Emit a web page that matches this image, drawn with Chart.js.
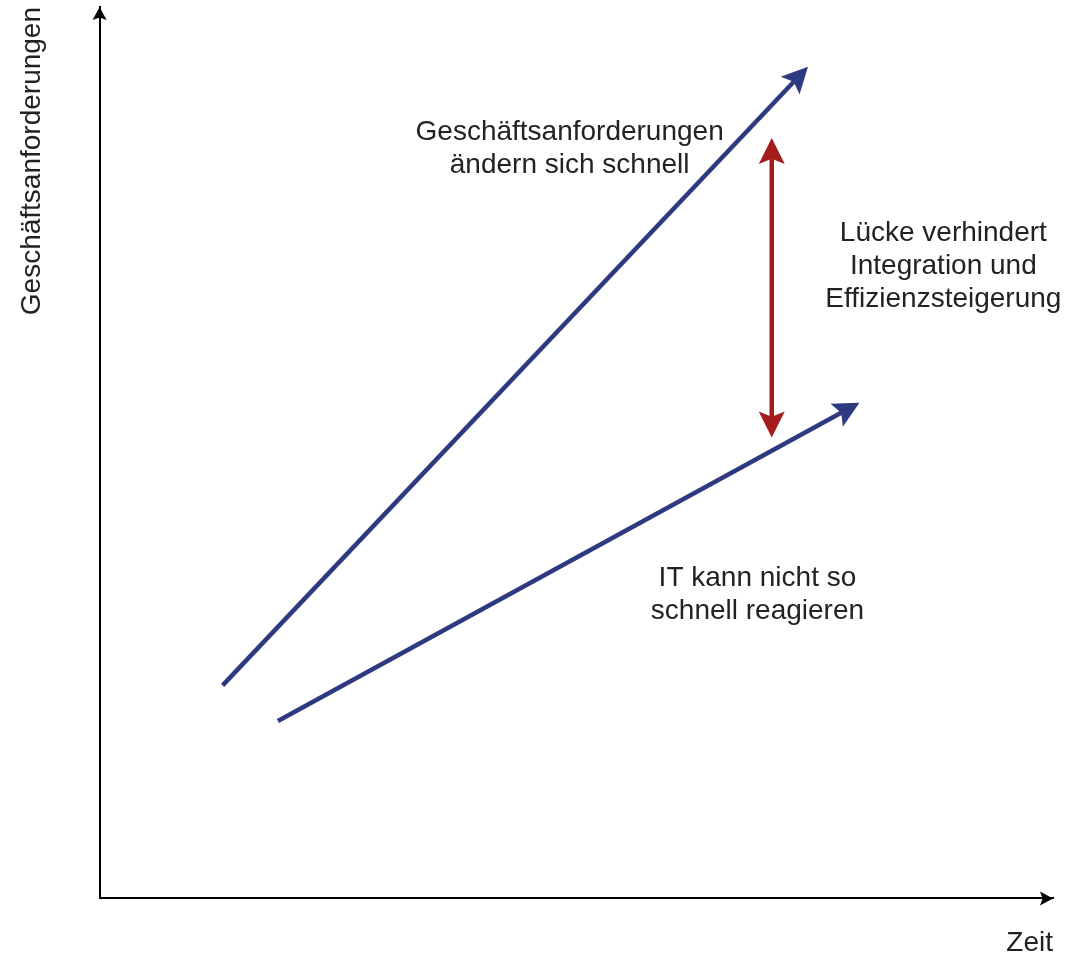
<!DOCTYPE html>
<html>
<head>
<meta charset="utf-8">
<script src="https://cdn.jsdelivr.net/npm/chart.js@4/dist/chart.umd.min.js"></script>
<style>
  html, body { margin: 0; padding: 0; background: #fff; }
  #wrap { width: 1076px; height: 960px; }
</style>
</head>
<body>
<div id="wrap"><canvas id="myChart"></canvas></div>
<script>
// values, both axes 0..100
let timeBusiness = [12.9, 74.3];
let demandBusiness = [23.9, 93.3];
let timeIT = [18.7, 79.7];
let demandIT = [19.9, 55.6];
let gapTime = [70.5, 70.5];
let gapDemand = [51.7, 85.3];

let noteLines = [
  ['Geschäftsanforderungen', 'ändern sich schnell'],
  ['Lücke verhindert', 'Integration und', 'Effizienzsteigerung'],
  ['IT kann nicht so', 'schnell reagieren']
];
let noteX = [49.3, 88.5, 69.0];
let noteY = [84.1, 70.9, 34.1];

let blue = '#2d3a80';
let red = '#a41d1d';
let fontFamily = '"Liberation Sans", Arial, sans-serif';
let headLen = 26, headHalf = 13, notch = 0.8;

function toPoints(xs, ys) {
  return xs.map((x, i) => ({ x: x, y: ys[i] }));
}

// classic (notched) arrowhead with its tip at (x, y), pointing along angle
function arrowHead(c, x, y, angle, len, half, color) {
  c.save();
  c.translate(x, y);
  c.rotate(angle);
  c.fillStyle = color;
  c.beginPath();
  c.moveTo(0, 0);
  c.lineTo(-len, -half);
  c.lineTo(-len * notch, 0);
  c.lineTo(-len, half);
  c.closePath();
  c.fill();
  c.restore();
}

// arrow tips (x, y, angle) of one dataset
function tips(chart, i) {
  let ds = chart.data.datasets[i];
  let pts = chart.getDatasetMeta(i).data;
  let a = pts[pts.length - 2], b = pts[pts.length - 1];
  let out = [{ x: b.x, y: b.y, angle: Math.atan2(b.y - a.y, b.x - a.x), color: ds.borderColor }];
  if (ds.bothEnds) {
    let p = pts[0], q = pts[1];
    out.push({ x: p.x, y: p.y, angle: Math.atan2(p.y - q.y, p.x - q.x), color: ds.borderColor });
  }
  return out;
}

let arrowPlugin = {
  id: 'arrows',
  beforeDatasetDraw(chart, args) {
    // keep the shaft from poking past its heads
    let c = chart.ctx;
    c.save();
    c.beginPath();
    c.rect(0, 0, chart.width, chart.height);
    tips(chart, args.index).forEach((t) => {
      let cs = Math.cos(t.angle), sn = Math.sin(t.angle);
      let back = headLen * notch - 1;
      let pts = [[-back, -headHalf], [6, -headHalf], [6, headHalf], [-back, headHalf]];
      pts.forEach((p, k) => {
        let px = t.x + p[0] * cs - p[1] * sn;
        let py = t.y + p[0] * sn + p[1] * cs;
        if (k === 0) c.moveTo(px, py); else c.lineTo(px, py);
      });
      c.closePath();
    });
    c.clip('evenodd');
  },
  afterDatasetDraw(chart, args) {
    let c = chart.ctx;
    c.restore();
    tips(chart, args.index).forEach((t) => arrowHead(c, t.x, t.y, t.angle, headLen, headHalf, t.color));
  },
  afterDraw(chart) {
    let c = chart.ctx;
    let area = chart.chartArea;
    // axis arrows
    arrowHead(c, area.left, area.top, -Math.PI / 2, 13, 7, '#000');
    arrowHead(c, area.right, area.bottom, 0, 13, 7, '#000');

    // notes
    let xs = chart.scales.x, ys = chart.scales.y;
    c.save();
    c.fillStyle = '#222';
    c.font = '28px ' + fontFamily;
    c.textAlign = 'center';
    c.textBaseline = 'middle';
    noteLines.forEach((lines, i) => {
      let cx = xs.getPixelForValue(noteX[i]);
      let cy = ys.getPixelForValue(noteY[i]);
      let lh = 33;
      lines.forEach((t, j) => {
        c.fillText(t, cx, cy + (j - (lines.length - 1) / 2) * lh);
      });
    });
    c.restore();
  }
};

let ctx = document.getElementById('myChart').getContext('2d');

let myChart = new Chart(ctx, {
  type: 'scatter',
  data: {
    datasets: [{
      data: toPoints(timeBusiness, demandBusiness),
      borderColor: blue,
      borderWidth: 4.5
    }, {
      data: toPoints(timeIT, demandIT),
      borderColor: blue,
      borderWidth: 4.5
    }, {
      data: toPoints(gapTime, gapDemand),
      borderColor: red,
      borderWidth: 4.5,
      bothEnds: true
    }]
  },
  options: {
    responsive: true,
    maintainAspectRatio: false,
    animation: false,
    showLine: true,
    elements: { point: { radius: 0, hoverRadius: 0 } },
    layout: { padding: { top: 7, right: 23, left: 0, bottom: 0 } },
    plugins: {
      legend: { display: false },
      tooltip: { enabled: false }
    },
    scales: {
      x: {
        type: 'linear',
        min: 0,
        max: 100,
        grid: { display: false, drawTicks: false },
        border: { display: true, color: '#000', width: 2 },
        ticks: { display: false },
        title: {
          display: true,
          text: 'Zeit',
          align: 'end',
          color: '#222',
          font: { family: fontFamily, size: 28 },
          padding: { top: 28, bottom: 0 }
        }
      },
      y: {
        type: 'linear',
        min: 0,
        max: 100,
        grid: { display: false, drawTicks: false },
        border: { display: true, color: '#000', width: 2 },
        ticks: { display: false },
        title: {
          display: true,
          text: 'Geschäftsanforderungen',
          align: 'end',
          color: '#222',
          font: { family: fontFamily, size: 28 },
          padding: { top: 15, bottom: 51 }
        }
      }
    }
  },
  plugins: [arrowPlugin]
});
</script>
</body>
</html>
